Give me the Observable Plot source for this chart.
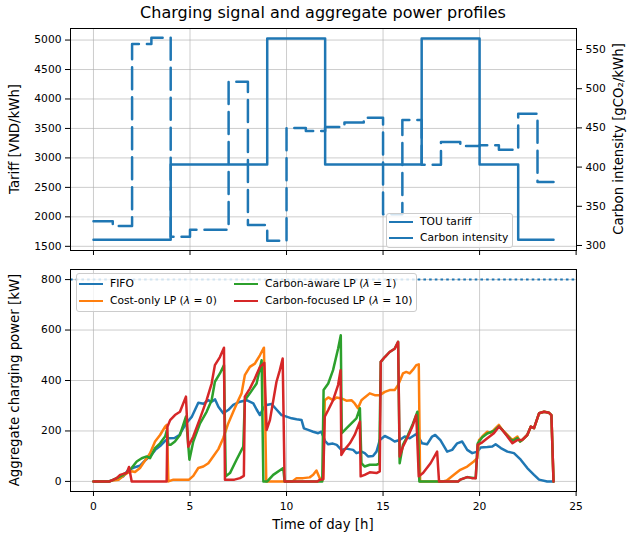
<!DOCTYPE html>
<html><head><meta charset="utf-8">
<script src="https://cdn.jsdelivr.net/npm/d3@7"></script>
<script src="https://cdn.jsdelivr.net/npm/@observablehq/plot@0.6"></script>
<style>
html,body{margin:0;padding:0;background:#fff;overflow:hidden;}
#fig{position:relative;width:627px;height:535px;overflow:hidden;font-family:"DejaVu Sans",sans-serif;color:#000;background:#fff;}
#fig svg{position:absolute;left:0;top:0;}
.lbl{position:absolute;white-space:nowrap;line-height:1;}
.legend{position:absolute;background:rgba(255,255,255,0.8);border:1px solid #cccccc;border-radius:3px;box-sizing:border-box;font-size:10.7px;}
.entry{position:absolute;white-space:nowrap;line-height:1;}
.swatch{position:absolute;height:0;}
</style></head><body><div id="fig"></div>
<script>
// ---------- data ----------
const xTicks = [0, 5, 10, 15, 20, 25];
const tariffTicks = [1500, 2000, 2500, 3000, 3500, 4000, 4500, 5000];
const carbonTicks = [300, 350, 400, 450, 500, 550];
const powerTicks = [0, 200, 400, 600, 800];

const tariffHours = [0, 4, 9, 12, 17, 20, 22, 23.83];
const tariffVND = [1610, 2890, 5025, 2890, 5025, 2890, 1610, 1610];

const carbonHours = [0,1,2,3,4,5,6,7,8,9,10,11,12,13,14,15,16,17,18,19,20,21,22,23,23.83];
const carbonG = [331,325,557,565,311,320,320,509,326,306,450,446,451,457,463,340,460,403,432,427,428,422,468,381,381];

const capacityKW = [800];

const fifoHours = [0,0.75,1.0,1.3,1.55,1.8,2.1,2.4,2.7,3.0,3.2,3.45,3.7,3.9,4.2,4.45,4.8,5.1,5.43,5.7,5.95,6.1,6.3,6.47,6.72,6.98,7.24,7.59,7.93,8.28,8.45,8.62,8.8,8.97,9.22,9.48,9.74,10.0,10.26,10.52,10.78,10.9,11.12,11.38,11.64,11.8,12.0,12.16,12.4,12.6,12.84,13.1,13.45,13.62,13.88,14.05,14.22,14.48,14.66,14.83,15.09,15.34,15.6,15.86,16.12,16.38,16.64,16.76,17.02,17.28,17.54,17.7,17.97,18.32,18.58,18.84,19.1,19.36,19.62,19.88,20.05,20.4,20.66,20.83,21.1,21.44,21.78,22.13,22.47,22.82,23.08,23.5,23.83];
const fifoKW = [0,0,5,12,20,45,55,62,85,105,125,140,160,171,172,184,230,257,312,308,322,315,325,296,270,283,303,316,322,309,285,263,290,303,307,285,263,257,250,246,243,210,204,197,191,197,160,147,150,145,125,130,125,112,118,112,99,101,118,164,180,171,158,164,178,171,184,188,151,147,178,184,164,118,125,151,158,125,112,118,134,136,138,147,132,118,112,86,53,26,7,0,0];

const costHours = [0,0.75,1.0,1.3,1.55,1.75,1.98,2.15,2.41,2.6,2.76,2.93,3.19,3.45,3.71,3.8,3.88,4.14,4.95,5.17,5.43,5.69,5.95,6.2,6.47,6.72,6.98,7.24,7.5,7.67,7.84,8.1,8.36,8.62,8.83,8.95,10.3,10.52,10.86,11.2,11.38,11.55,11.72,11.9,11.98,12.16,12.41,12.59,12.84,13.1,13.36,13.53,13.7,13.88,14.05,14.31,14.57,14.83,15.09,15.34,15.6,15.78,16.03,16.2,16.38,16.55,16.72,16.85,16.92,18.1,18.3,18.67,19.0,19.36,19.7,19.88,19.97,20.14,20.4,20.55,20.74,21.0,21.18,21.44,21.7,21.96,22.1,22.2,22.47,22.65,22.82,23.08,23.34,23.6,23.72,23.83];
const costKW = [0,0,4,7,22,33,40,37,53,75,92,112,158,184,217,224,0,7,7,22,53,59,72,99,128,171,230,276,322,349,421,454,467,500,530,0,0,13,13,16,26,43,13,9,322,333,322,333,329,320,322,309,290,322,333,349,342,342,355,362,362,382,428,434,428,443,461,464,0,0,4,26,46,59,79,92,164,178,197,192,204,224,204,184,164,178,158,164,184,217,211,270,276,272,263,0];

const awareHours = [0,0.85,1.2,1.55,1.9,2.24,2.5,2.76,2.93,3.19,3.45,3.71,3.8,3.88,4.0,4.22,4.48,4.79,4.97,5.17,5.52,5.86,6.12,6.29,6.55,6.76,6.85,7.07,7.41,7.76,7.84,8.1,8.45,8.71,8.8,9.0,9.31,9.83,9.9,11.85,11.92,12.16,12.41,12.67,12.81,12.86,13.1,13.36,13.62,13.8,13.88,14.05,14.31,14.66,14.8,14.88,15.09,15.34,15.6,15.78,15.86,16.03,16.29,16.55,16.78,16.88,18.9,19.0,19.36,19.8,19.9,20.14,20.4,20.74,21.0,21.18,21.44,21.7,21.96,22.1,22.2,22.47,22.65,22.82,23.08,23.34,23.6,23.72,23.83];
const awareKW = [0,0,13,26,46,79,92,99,92,132,151,178,201,145,145,158,184,257,86,158,230,276,322,395,428,461,20,33,86,138,322,349,388,480,0,0,26,53,0,0,362,388,441,526,579,191,210,230,250,290,72,59,66,66,70,474,493,513,526,553,72,145,184,230,276,0,0,7,17,13,150,175,190,200,218,204,180,160,172,158,164,184,217,211,270,276,272,263,0];

const focusHours = [0,0.85,1.2,1.38,1.55,1.72,1.84,1.98,3.79,3.83,3.97,4.22,4.48,4.79,4.91,5.17,5.52,5.86,6.12,6.29,6.55,6.76,6.81,7.3,7.59,7.79,7.84,8.1,8.36,8.62,8.85,8.97,9.14,9.48,9.65,9.8,9.9,11.6,11.72,11.9,11.98,12.16,12.41,12.67,12.8,12.84,13.0,13.28,13.53,13.8,13.84,14.05,14.31,14.66,14.83,14.88,15.09,15.34,15.6,15.78,15.86,16.03,16.29,16.55,16.72,16.85,17.07,17.46,17.8,17.9,18.9,19.0,19.36,19.6,19.8,19.9,20.14,20.4,20.74,21.0,21.18,21.44,21.7,21.96,22.2,22.47,22.65,22.82,23.08,23.34,23.6,23.72,23.83];
const focusKW = [0,0,13,26,30,33,57,0,0,217,243,263,276,336,138,178,250,322,388,461,493,530,7,7,13,22,336,368,408,454,470,204,243,395,440,487,0,0,7,9,257,283,322,382,441,105,125,151,184,237,20,26,36,33,40,474,493,513,526,553,99,138,178,224,263,20,33,72,118,0,0,7,17,13,13,145,155,171,191,217,204,178,151,164,164,184,217,211,270,276,272,263,0];

const seriesNames = ["FIFO", "Cost-only LP", "Carbon-aware LP", "Carbon-focused LP"];
const seriesColors = ["#1f77b4", "#ff7f0e", "#2ca02c", "#d62728"];

// ---------- layout ----------
const W = 627, H = 535, ML = 70, MR = 51;
const xDomain = [-1.19, 25.02];
const fig = document.getElementById("fig");
const pts = (xs, ys) => xs.map((x, i) => ({x, y: ys[i]}));
const svgStyle = {background: "transparent", fontFamily: "DejaVu Sans, sans-serif", fontSize: "10.7px", color: "#000", overflow: "visible"};
const grid = {stroke: "#b0b0b0", strokeOpacity: 0.7, strokeWidth: 0.9};
const LW = 2.5;

// top panel, left axis (tariff)
const topT = 28, topB = 250;
const tariffPlot = Plot.plot({
  width: W, height: H, marginLeft: ML, marginRight: MR, marginTop: topT, marginBottom: H - topB,
  style: svgStyle,
  x: {domain: xDomain},
  y: {domain: [1429, 5196]},
  marks: [
    Plot.ruleY(tariffTicks, grid),
    Plot.ruleX(xTicks.filter(d => d < 25), grid),
    Plot.line(pts(tariffHours, tariffVND), {x: "x", y: "y", curve: "step-after", stroke: seriesColors[0], strokeWidth: LW}),
    Plot.frame({stroke: "#000", strokeWidth: 1}),
    Plot.axisY({ticks: tariffTicks, tickFormat: d => String(d), tickSize: 5, tickPadding: 4, label: null}),
    Plot.axisX({ticks: xTicks, tickFormat: () => "", tickSize: 5, label: null})
  ]
});
fig.appendChild(tariffPlot);

// top panel, right axis (carbon)
const carbonPlot = Plot.plot({
  width: W, height: H, marginLeft: ML, marginRight: MR, marginTop: topT, marginBottom: H - topB,
  style: svgStyle,
  x: {domain: xDomain, axis: null},
  y: {domain: [293.6, 576.8]},
  marks: [
    Plot.line(pts(carbonHours, carbonG), {x: "x", y: "y", curve: "step-after", stroke: seriesColors[0], strokeWidth: LW, strokeDasharray: "22,8"}),
    Plot.axisY({anchor: "right", ticks: carbonTicks, tickFormat: d => String(d), tickSize: 5, tickPadding: 4, label: null})
  ]
});
fig.appendChild(carbonPlot);

// bottom panel
const botT = 269, botB = 491;
const seriesData = [pts(fifoHours, fifoKW), pts(costHours, costKW), pts(awareHours, awareKW), pts(focusHours, focusKW)];
const powerPlot = Plot.plot({
  width: W, height: H, marginLeft: ML, marginRight: MR, marginTop: botT, marginBottom: H - botB,
  style: svgStyle,
  x: {domain: xDomain},
  y: {domain: [-40, 840]},
  marks: [
    Plot.ruleY(powerTicks, grid),
    Plot.ruleX(xTicks, grid),
    Plot.ruleY(capacityKW, {stroke: seriesColors[0], strokeWidth: 2, strokeDasharray: "2.6,3.1"}),
    ...seriesData.map((d, i) => Plot.line(d, {x: "x", y: "y", stroke: seriesColors[i], strokeWidth: LW})),
    Plot.frame({stroke: "#000", strokeWidth: 1}),
    Plot.axisY({ticks: powerTicks, tickFormat: d => String(d), tickSize: 5, tickPadding: 4, label: null}),
    Plot.axisX({ticks: xTicks, tickFormat: d => String(d), tickSize: 5, tickPadding: 6, label: null})
  ]
});
fig.appendChild(powerPlot);

// ---------- texts ----------
function label(html, cx, cy, size, rot) {
  const d = document.createElement("div");
  d.className = "lbl";
  d.innerHTML = html;
  d.style.fontSize = size + "px";
  d.style.left = cx + "px";
  d.style.top = cy + "px";
  d.style.transform = "translate(-50%,-50%)" + (rot ? " rotate(" + rot + "deg)" : "");
  fig.appendChild(d);
}
label("Charging signal and aggregate power profiles", (ML + W - MR) / 2, 13, 16, 0);
label("Tariff [VND/kWh]", 15, (topT + topB) / 2, 13.3, -90);
label("Carbon intensity [gCO₂/kWh]", 619, (topT + topB) / 2, 13.3, -90);
label("Aggregate charging power [kW]", 15, (botT + botB) / 2, 13.3, -90);
label("Time of day [h]", (ML + W - MR) / 2, 525, 13.3, 0);

// ---------- legends ----------
function legend(box, entries) {
  const b = document.createElement("div");
  b.className = "legend";
  Object.assign(b.style, {left: box.x + "px", top: box.y + "px", width: box.w + "px", height: box.h + "px"});
  fig.appendChild(b);
  entries.forEach(e => {
    const s = document.createElement("div");
    s.className = "swatch";
    Object.assign(s.style, {left: (e.x - box.x - 1) + "px", top: (e.y - box.y - 1 - LW / 2) + "px", width: "24px",
      borderTop: LW + "px " + (e.dash ? "dashed" : "solid") + " " + e.color});
    b.appendChild(s);
    const t = document.createElement("div");
    t.className = "entry";
    t.innerHTML = e.text;
    Object.assign(t.style, {left: (e.x + 31 - box.x - 1) + "px", top: (e.y - box.y - 1) + "px", transform: "translateY(-50%)"});
    b.appendChild(t);
  });
}
legend({x: 386, y: 213, w: 127, h: 35}, [
  {text: "TOU tariff", color: seriesColors[0], x: 389, y: 222},
  {text: "Carbon intensity", color: seriesColors[0], x: 389, y: 238}
]);
legend({x: 76, y: 273, w: 341, h: 39}, [
  {text: seriesNames[0], color: seriesColors[0], x: 79, y: 284},
  {text: seriesNames[1] + " (<i>λ</i> = 0)", color: seriesColors[1], x: 79, y: 301},
  {text: seriesNames[2] + " (<i>λ</i> = 1)", color: seriesColors[2], x: 234, y: 284},
  {text: seriesNames[3] + " (<i>λ</i> = 10)", color: seriesColors[3], x: 234, y: 301}
]);
</script></body></html>
